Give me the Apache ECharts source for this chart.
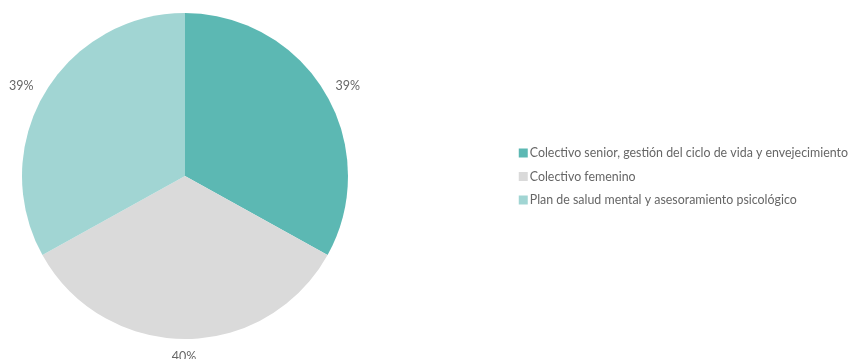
<!DOCTYPE html>
<html><head><meta charset="utf-8">
<script src="https://cdn.jsdelivr.net/npm/echarts@6/dist/echarts.min.js"></script>
<style>html,body{margin:0;padding:0;background:#fff}#c{width:849px;height:359px}</style>
</head><body><div id="c"></div>
<script>
const categories = [
  'Colectivo senior, gestión del ciclo de vida y envejecimiento',
  'Colectivo femenino',
  'Plan de salud mental y asesoramiento psicológico'
];
const values = [39, 40, 39];
const colors = ['#5cb8b3', '#dadada', '#a1d5d3'];

const chart = echarts.init(document.getElementById('c'));
chart.setOption({
  animation: false,
  color: colors,
  textStyle: { fontFamily: 'Lato' },
  legend: {
    orient: 'vertical', right: -4, top: 142,
    itemWidth: 9, itemHeight: 9, itemGap: 11.5, icon: 'rect',
    textStyle: { color: '#666', fontSize: 12.4, fontFamily: 'Lato', padding: [0, 0, 0, -3] },
    data: categories
  },
  series: [{
    type: 'pie',
    center: [185, 176], radius: 163,
    startAngle: 90,
    data: categories.map((n, i) => ({ name: n, value: values[i] })),
    label: { show: true, position: 'outside', formatter: '{c}%', color: '#666', fontSize: 12.5, fontFamily: 'Lato', overflow: 'none' },
    labelLine: { show: false, length: 14, length2: 0 },
    labelLayout: p => p.dataIndex === 1 ? { align: 'center', dx: -6, dy: 5 } : { dx: p.dataIndex === 0 ? -7 : 6 },
    emphasis: { disabled: true }
  }]
});
</script></body></html>
